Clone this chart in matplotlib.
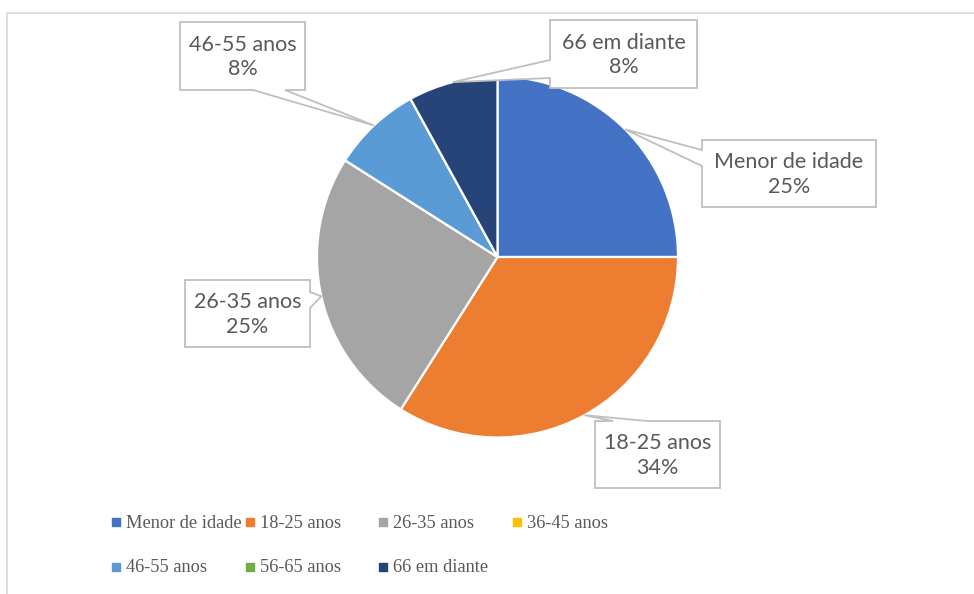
import numpy as np
import matplotlib
matplotlib.use("Agg")
import matplotlib.pyplot as plt
from matplotlib.patches import Polygon, Rectangle

W, H = 974, 594

# data
labels = ["Menor de idade", "18-25 anos", "26-35 anos", "36-45 anos",
          "46-55 anos", "56-65 anos", "66 em diante"]
percent = [25, 34, 25, 0, 8, 0, 8]
colors = ["#4472C4", "#ED7D31", "#A5A5A5", "#FFC000",
          "#5B9BD5", "#70AD47", "#264478"]

# layout (pixels, y down)
cx, cy, r = 497.5, 257, 180.5
# callout boxes: label index -> (x0, y0, x1, y1), edge holding the wedge, wedge base span
callouts = {
    0: ((702, 140, 876, 207), "left", (150, 166)),
    1: ((595, 421, 720, 488), "top", (613, 647)),
    2: ((185, 280, 310, 347), "right", (292, 308)),
    4: ((180, 22, 305, 90), "bottom", (253, 285)),
    6: ((550, 20, 697, 88), "left", (60, 78)),
}

fig = plt.figure(figsize=(W / 100, H / 100), dpi=100)
ax = fig.add_axes([0, 0, 1, 1])

ax.pie(percent, colors=colors, startangle=-90, counterclock=True,
       center=(cx, cy), radius=r,
       wedgeprops=dict(edgecolor="white", linewidth=1.6))
ax.set_xlim(0, W)
ax.set_ylim(H, 0)
ax.set_aspect("equal")
ax.axis("off")

# outer chart frame
ax.add_patch(Rectangle((7, 13), W, H, fill=False, edgecolor="#D9D9D9", lw=1.2))

cum = np.cumsum(percent) / sum(percent)
mids = cum - np.array(percent) / sum(percent) / 2

def callout(box, edge, base, apex):
    x0, y0, x1, y1 = box
    b0, b1 = base
    if edge == "left":
        pts = [(x0, y0), (x1, y0), (x1, y1), (x0, y1), (x0, b1), apex, (x0, b0)]
    elif edge == "right":
        pts = [(x0, y0), (x1, y0), (x1, b0), apex, (x1, b1), (x1, y1), (x0, y1)]
    elif edge == "top":
        pts = [(x0, y0), (b0, y0), apex, (b1, y0), (x1, y0), (x1, y1), (x0, y1)]
    else:
        pts = [(x0, y0), (x1, y0), (x1, y1), (b1, y1), apex, (b0, y1), (x0, y1)]
    ax.add_patch(Polygon(pts, closed=True, facecolor="white",
                         edgecolor="#BFBFBF", lw=1.3, zorder=5))

for i, (box, edge, base) in callouts.items():
    a = 2 * np.pi * mids[i]
    apex = (cx + r * np.sin(a), cy - r * np.cos(a))
    callout(box, edge, base, apex)
    x0, y0, x1, y1 = box
    ax.text((x0 + x1) / 2, (y0 + y1) / 2 + 1, f"{labels[i]}\n{percent[i]}%",
            ha="center", va="center", fontsize=15.5, family="Lato",
            color="#595959", linespacing=1.3, zorder=6)

# legend
for i, lab in enumerate(labels):
    row, col = divmod(i, 4)
    lx = 116 + col * 133.7
    ly = 522 + row * 45
    ax.scatter([lx], [ly], marker="s", s=36, color=colors[i], zorder=6)
    ax.text(lx + 10, ly + 1, lab, ha="left", va="center", fontsize=13.2,
            family="Liberation Serif", color="#595959", zorder=6)

fig.savefig("out.png", dpi=100)
